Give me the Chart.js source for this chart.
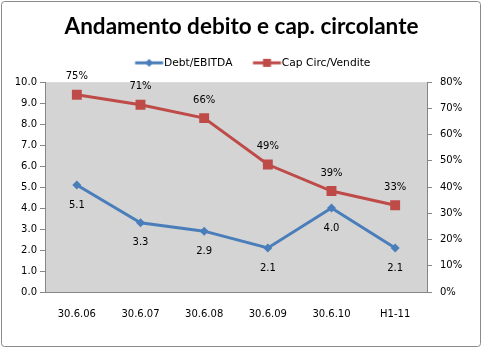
<!DOCTYPE html>
<html><head><meta charset="utf-8">
<script src="https://cdn.jsdelivr.net/npm/chart.js@4.4.1/dist/chart.umd.min.js"></script>
<style>html,body{margin:0;padding:0;background:#fff}#wrap{width:483px;height:349px;position:relative}</style>
</head><body><div id="wrap"><canvas id="c" width="483" height="349"></canvas></div>
<script>
const categories = ['30.6.06','30.6.07','30.6.08','30.6.09','30.6.10','H1-11'];
const debtEbitda = [5.1, 3.3, 2.9, 2.1, 4.0, 2.1];
const capCircVendite = [75.2, 71.4, 66.3, 48.6, 38.5, 33.1];
const leftTicks = [0,1,2,3,4,5,6,7,8,9,10];
const rightTicks = [0,10,20,30,40,50,60,70,80];

const BLUE = '#4A7EBB', RED = '#BE4B48';
const FONT = 'DejaVu Sans';

function legendIcon(color, shape){
  const c = document.createElement('canvas'); c.width = 48; c.height = 12;
  const g = c.getContext('2d');
  g.strokeStyle = color; g.lineWidth = 3; g.beginPath(); g.moveTo(14.5,6); g.lineTo(42.5,6); g.stroke();
  g.fillStyle = color; g.beginPath();
  const m = 28.5;
  if (shape === 'diamond'){ g.moveTo(m,2); g.lineTo(m+4,6); g.lineTo(m,10); g.lineTo(m-4,6); g.closePath(); }
  else { g.rect(m-4,2,8,8); }
  g.fill();
  return c;
}
const iconBlue = legendIcon(BLUE,'diamond'), iconRed = legendIcon(RED,'square');

const frame = {
  id:'frame',
  afterLayout(chart){
    if (chart.legend){ chart.legend.left += 9; chart.legend.right += 9; }
  },
  beforeDraw(chart){
    const ctx = chart.ctx, a = chart.chartArea;
    ctx.save();
    ctx.fillStyle = '#fff'; ctx.fillRect(0,0,chart.width,chart.height);
    ctx.strokeStyle = '#8a8a8a'; ctx.lineWidth = 1;
    ctx.beginPath(); ctx.roundRect(1.5,1.5,479,345,3); ctx.stroke();
    ctx.fillStyle = '#D4D4D4'; ctx.fillRect(a.left, a.top, a.right-a.left, a.bottom-a.top);
    ctx.restore();
  }
};
const dataLabels = {
  id:'dataLabels',
  afterDatasetsDraw(chart){
    const ctx = chart.ctx;
    ctx.save();
    ctx.font = '10px "'+FONT+'"'; ctx.fillStyle = '#000'; ctx.textAlign = 'center'; ctx.textBaseline = 'middle';
    chart.data.datasets.forEach((ds,i)=>{
      const meta = chart.getDatasetMeta(i);
      meta.data.forEach((pt,j)=>{
        const v = ds.data[j];
        if (i === 0) ctx.fillText(v.toFixed(1), pt.x, pt.y + 20);
        else ctx.fillText(Math.round(v) + '%', pt.x, pt.y - 18);
      });
    });
    ctx.restore();
  }
};

new Chart(document.getElementById('c'), {
  type:'line',
  data:{
    labels: categories,
    datasets:[
      {label:'Debt/EBITDA', data: debtEbitda, yAxisID:'y', borderColor:BLUE, backgroundColor:BLUE, borderWidth:3,
       pointStyle:'rectRot', pointRadius:4.5, pointHoverRadius:4.5, pointBorderWidth:0, tension:0},
      {label:'Cap Circ/Vendite', data: capCircVendite, yAxisID:'y1', borderColor:RED, backgroundColor:RED, borderWidth:3,
       pointStyle:'rect', pointRadius:7, pointHoverRadius:7, pointBorderWidth:0, tension:0}
    ]
  },
  options:{
    responsive:false, animation:false, devicePixelRatio:1,
    layout:{padding:0},
    plugins:{
      tooltip:{enabled:false},
      title:{display:true, text:'Andamento debito e cap. circolante', color:'#000',
        font:{family:'Lato', size:22.5, weight:'bold'}, padding:{top:13.5, bottom:1}},
      subtitle:{display:true, text:'', position:'top', weight:500, font:{size:4, lineHeight:1}, padding:0},
      legend:{display:true, position:'top',
        labels:{color:'#000', font:{family:FONT, size:10.7}, usePointStyle:true, pointStyleWidth:28, boxHeight:10, padding:16,
          generateLabels(chart){
            return chart.data.datasets.map((ds,i)=>({text:ds.label, pointStyle: i===0?iconBlue:iconRed, datasetIndex:i, hidden:false, fontColor:'#000', lineWidth:0, strokeStyle:'transparent', fillStyle:'transparent'}));
          }}}
    },
    scales:{
      x:{offset:true,
        grid:{display:true, drawOnChartArea:false, drawTicks:true, tickLength:16, tickColor:'transparent'},
        border:{display:true, color:'#868686', width:1},
        ticks:{color:'#000', font:{family:FONT, size:10}, padding:0, maxRotation:0, autoSkip:false},
        afterFit(s){ s.height = 57; }},
      y:{position:'left', min:0, max:10,
        afterBuildTicks(s){ s.ticks = leftTicks.map(v=>({value:v})); },
        grid:{display:true, drawOnChartArea:false, tickLength:5, tickColor:'#868686'},
        border:{display:true, color:'#868686', width:1},
        ticks:{color:'#000', font:{family:FONT, size:10}, padding:3, callback:v=>v.toFixed(1)},
        afterFit(s){ s.width = 45; }},
      y1:{position:'right', min:0, max:80,
        afterBuildTicks(s){ s.ticks = rightTicks.map(v=>({value:v})); },
        grid:{display:true, drawOnChartArea:false, tickLength:5, tickColor:'#868686'},
        border:{display:true, color:'#868686', width:1},
        ticks:{color:'#000', font:{family:FONT, size:10}, padding:8, callback:v=>v+'%'},
        afterFit(s){ s.width = 56; }}
    }
  },
  plugins:[frame, dataLabels]
});
</script></body></html>
